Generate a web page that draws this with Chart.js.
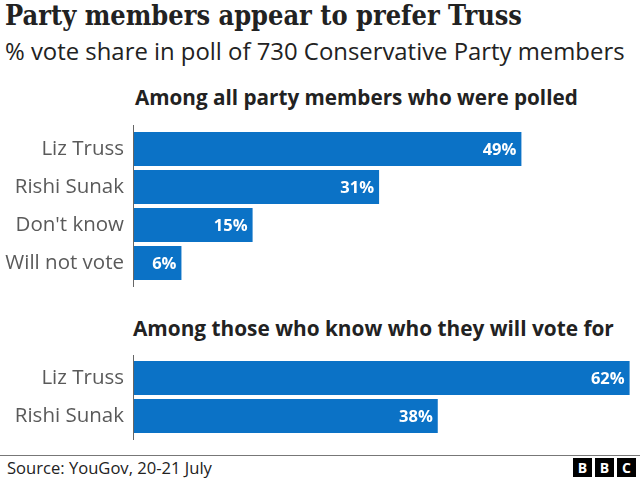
<!DOCTYPE html>
<html>
<head>
<meta charset="utf-8">
<script src="https://cdn.jsdelivr.net/npm/chart.js@4.4.0/dist/chart.umd.min.js"></script>
<style>
  body { margin: 0; background: #fff; }
  #wrap { position: relative; width: 640px; height: 480px; overflow: hidden; font-family: "Open Sans", sans-serif; color: #222; }
  .t { position: absolute; white-space: nowrap; line-height: 1; display: inline-block; transform-origin: 0 0; }
  #title { font-family: "DejaVu Serif", serif; font-weight: bold; }
  .head { font-weight: bold; }
  canvas { position: absolute; left: 0; }
  #rule { position: absolute; left: 0; top: 455px; width: 640px; height: 1px; background: #777; }
  .blk { position: absolute; top: 458px; width: 19px; height: 19px; background: #000; color: #fff;
         font: bold 14px "Open Sans", sans-serif; line-height: 19px; text-align: center; }
</style>
</head>
<body>
<div id="wrap">
  <div class="t" id="title">Party members appear to prefer Truss</div>
  <div class="t" id="sub">% vote share in poll of 730 Conservative Party members</div>
  <div class="t head" id="head1">Among all party members who were polled</div>
  <div class="t head" id="head2">Among those who know who they will vote for</div>
  <canvas id="c1" width="640" height="162" style="top:125px"></canvas>
  <canvas id="c2" width="640" height="85" style="top:355px"></canvas>
  <div id="rule"></div>
  <div class="t" id="source">Source: YouGov, 20-21 July</div>
  <div class="blk" style="left:573px">B</div>
  <div class="blk" style="left:595px">B</div>
  <div class="blk" style="left:617px">C</div>
</div>
<script>
// data
const allLabels = ['Liz Truss', 'Rishi Sunak', "Don't know", 'Will not vote'];
const allValues = [49, 31, 15, 6];
const decidedLabels = ['Liz Truss', 'Rishi Sunak'];
const decidedValues = [62, 38];

const barBlue = '#0b72c6';

// put a text block at a given left / baseline and width
// squeeze=true keeps the font size and squeezes horizontally instead
function place(id, left, baseline, width, size, squeeze) {
  const el = document.getElementById(id);
  el.style.fontSize = size + 'px';
  el.style.left = left + 'px';
  el.style.top = '0px';
  const w = el.getBoundingClientRect().width;
  if (squeeze) {
    el.style.transform = 'scaleX(' + (width / w) + ')';
  } else {
    el.style.fontSize = (size * width / w) + 'px';
  }
  const mark = document.createElement('span');
  mark.style.cssText = 'display:inline-block;width:0;height:0;vertical-align:baseline';
  el.appendChild(mark);
  const base = mark.getBoundingClientRect().top - el.getBoundingClientRect().top;
  el.style.top = (baseline - base) + 'px';
}

place('title', 5, 25, 517, 27, true);
place('sub', 5, 60, 620, 22);
place('head1', 135, 105, 443, 21);
place('head2', 133, 336, 481, 21);
place('source', 7, 474, 205, 16);

const axisLine = {
  id: 'axisLine',
  afterDatasetsDraw(chart) {
    const ctx = chart.ctx;
    const x = Math.round(chart.chartArea.left) - 0.5;
    ctx.save();
    ctx.strokeStyle = '#666';
    ctx.lineWidth = 1;
    ctx.beginPath();
    ctx.moveTo(x, 0);
    ctx.lineTo(x, chart.height);
    ctx.stroke();
    ctx.restore();
  }
};

const valueLabels = {
  id: 'valueLabels',
  afterDatasetsDraw(chart) {
    const ctx = chart.ctx;
    const values = chart.data.datasets[0].data;
    ctx.save();
    ctx.fillStyle = '#fff';
    ctx.font = 'bold 16.5px "Open Sans"';
    ctx.textAlign = 'right';
    ctx.textBaseline = 'middle';
    chart.getDatasetMeta(0).data.forEach((bar, i) => {
      ctx.fillText(values[i] + '%', bar.x - 5, bar.y + 1);
    });
    ctx.restore();
  }
};

function makeChart(id, labels, values, xMax, padTop, padBottom) {
  return new Chart(document.getElementById(id), {
    type: 'bar',
    data: {
      labels: labels,
      datasets: [{
        data: values,
        backgroundColor: barBlue,
        borderWidth: 0,
        barPercentage: 0.9,
        categoryPercentage: 1
      }]
    },
    options: {
      indexAxis: 'y',
      responsive: false,
      animation: false,
      layout: { padding: { top: padTop, bottom: padBottom, left: 0, right: 0 } },
      plugins: { legend: { display: false }, tooltip: { enabled: false } },
      scales: {
        x: { display: false, min: 0, max: xMax },
        y: {
          grid: { display: false, drawTicks: false },
          border: { display: false },
          ticks: { color: '#5a5a5a', font: { family: 'Open Sans', size: 20.5 }, padding: 10 },
          afterFit: s => { s.width = 134; s.paddingTop = 0; s.paddingBottom = 0; }
        }
      }
    },
    plugins: [axisLine, valueLabels]
  });
}

makeChart('c1', allLabels, allValues, 64, 5, 5);
makeChart('c2', decidedLabels, decidedValues, 63.3, 4, 5);
</script>
</body>
</html>
